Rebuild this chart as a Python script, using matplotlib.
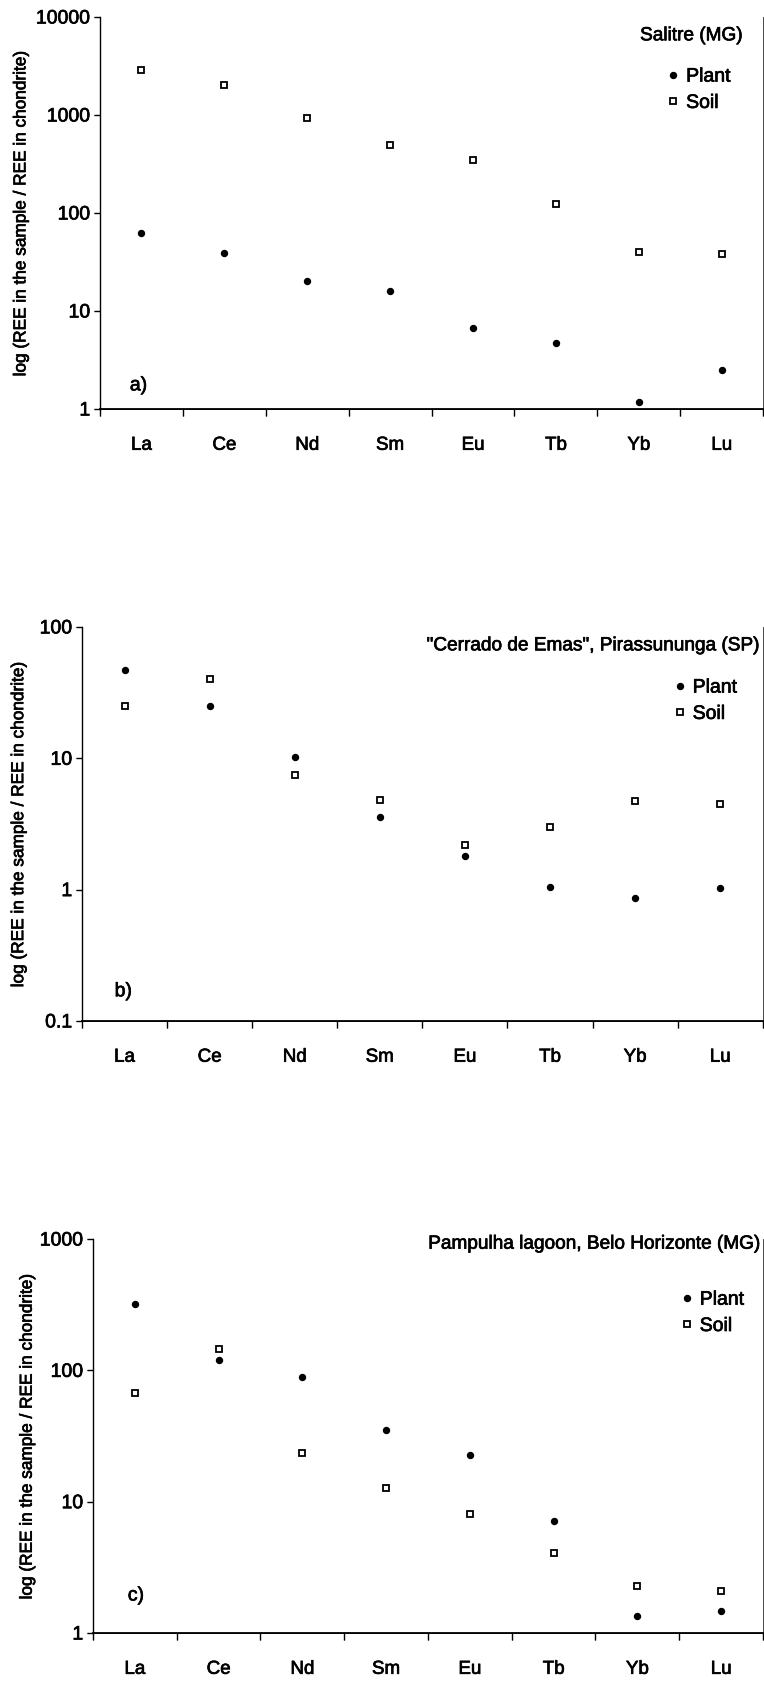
import numpy as np
import matplotlib
matplotlib.use("Agg")
from matplotlib import pyplot as plt
from matplotlib import patheffects as pe

plt.rcParams['font.family'] = ['Liberation Sans', 'DejaVu Sans']
# scanned figure: text looks a bit heavier than plain regular weight
plt.rcParams['path.effects'] = [pe.withStroke(linewidth=0.5, foreground='black')]

# REE categories (chondrite normalised values)
elements = ['La', 'Ce', 'Nd', 'Sm', 'Eu', 'Tb', 'Yb', 'Lu']

# a) Salitre (MG)
plant_a = [62, 39, 20, 16, 6.7, 4.7, 1.18, 2.5]
soil_a = [2900, 2030, 935, 494, 347, 123, 40, 38]

# b) "Cerrado de Emas", Pirassununga (SP)
plant_b = [47, 25, 10.2, 3.6, 1.8, 1.05, 0.87, 1.03]
soil_b = [25, 40, 7.4, 4.8, 2.2, 3.0, 4.7, 4.5]

# c) Pampulha lagoon, Belo Horizonte (MG)
plant_c = [321, 120, 89, 35, 22.7, 7.1, 1.35, 1.47]
soil_c = [67, 145, 23.5, 12.7, 8.1, 4.1, 2.3, 2.1]

titles = ['Salitre (MG)', '"Cerrado de Emas", Pirassununga (SP)',
          'Pampulha lagoon, Belo Horizonte (MG)']
panel_tags = ['a)', 'b)', 'c)']
ylims = [(1, 10000), (0.1, 100), (1, 1000)]
yticks = [[1, 10, 100, 1000, 10000], [0.1, 1, 10, 100], [1, 10, 100, 1000]]
ytick_labels = [['1', '10', '100', '1000', '10000'], ['0.1', '1', '10', '100'],
                ['1', '10', '100', '1000']]

fig = plt.figure(figsize=(7.64, 16.83), dpi=100)

# axes rectangles in figure fraction
rects = [[0.1309, 0.7564, 0.868, 0.2329],
         [0.1073, 0.3928, 0.891, 0.2341],
         [0.1217, 0.0291, 0.877, 0.2341]]
title_pos = [(0.968, 0.952), (0.993, 0.952), (0.993, 0.987)]
tag_pos = [(0.045, 0.059), (0.048, 0.074), (0.052, 0.094)]
legend_pos = [(0.856, 0.87), (0.87, 0.868), (0.878, 0.868)]
ylabel_x = [-0.108, -0.082, -0.087]

plants = [plant_a, plant_b, plant_c]
soils = [soil_a, soil_b, soil_c]

x = np.arange(len(elements)) + 0.5

for i in range(3):
    ax = fig.add_axes(rects[i])
    ax.plot(x, plants[i], linestyle='none', marker='o', markersize=4.3,
            color='black', label='Plant', path_effects=[])
    ax.plot(x, soils[i], linestyle='none', marker='s', markersize=4.6,
            markerfacecolor='white', markeredgecolor='black',
            markeredgewidth=1.3, label='Soil', path_effects=[])
    ax.set_yscale('log')
    ax.set_ylim(ylims[i])
    ax.set_xlim(0, len(elements))
    ax.set_yticks(yticks[i])
    ax.set_yticklabels(ytick_labels[i])
    ax.yaxis.set_minor_locator(matplotlib.ticker.NullLocator())
    # category boundaries as ticks, names as minor ticks without marks
    ax.set_xticks(np.arange(0, len(elements) + 1))
    ax.set_xticklabels([])
    ax.set_xticks(x, minor=True)
    ax.set_xticklabels(elements, minor=True)
    ax.tick_params(axis='x', which='minor', length=0, pad=20, labelsize=13.5)
    ax.tick_params(axis='x', which='major', length=5, width=1, direction='out')
    ax.tick_params(axis='y', which='major', length=4, width=1, labelsize=14, pad=3)
    for s in ['top', 'right']:
        ax.spines[s].set_visible(False)
    ax.spines['left'].set_linewidth(1)
    ax.spines['bottom'].set_linewidth(1.3)
    ax.set_ylabel('log (REE in the sample / REE in chondrite)', fontsize=12.4)
    ax.yaxis.set_label_coords(ylabel_x[i], 0.5)
    ax.text(title_pos[i][0], title_pos[i][1], titles[i], transform=ax.transAxes,
            ha='right', va='center', fontsize=13.7)
    ax.text(tag_pos[i][0], tag_pos[i][1], panel_tags[i], transform=ax.transAxes,
            ha='left', va='center', fontsize=14)
    ax.legend(loc='upper left', bbox_to_anchor=legend_pos[i], frameon=False,
              fontsize=14, handlelength=0.6, handletextpad=0.35,
              labelspacing=0.45, borderpad=0, borderaxespad=0, numpoints=1)

fig.savefig('out.png', dpi=100)
